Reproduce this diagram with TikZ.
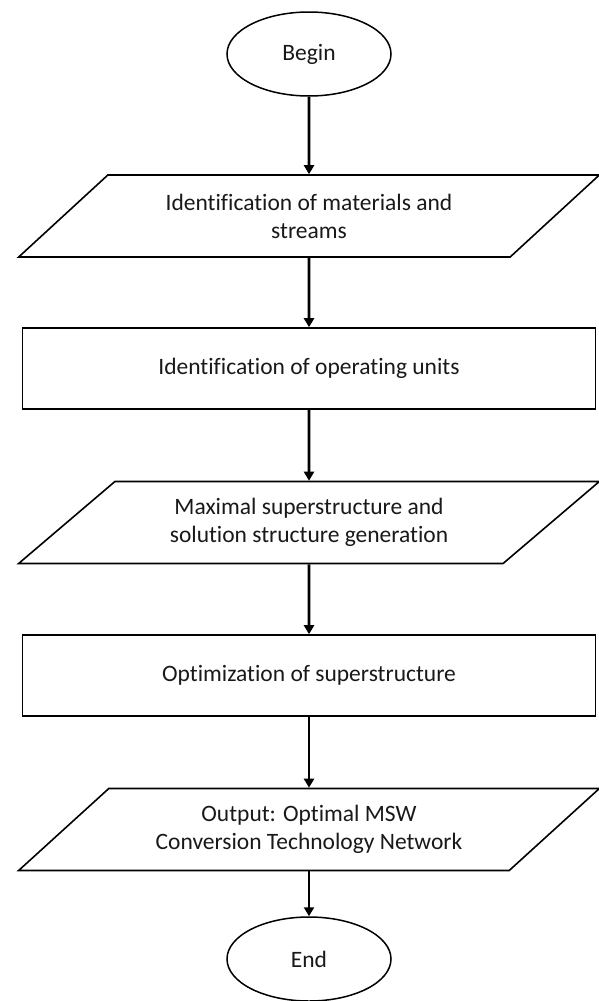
\documentclass[tikz,border=0pt]{standalone}
\usepackage{fontspec}
\setmainfont{Carlito}[Ligatures=NoCommon]
\usetikzlibrary{shapes.geometric,arrows.meta}
\begin{document}
\begin{tikzpicture}[x=1pt,y=-1pt,
  txt/.style={font=\fontsize{23.5}{28}\selectfont, text=black!90, align=center},
  box/.style={txt, draw, line width=1.6pt, rectangle, minimum width=573pt, minimum height=81pt, inner sep=0pt},
  io/.style={txt, draw, line width=1.6pt, trapezium, trapezium left angle=35, trapezium right angle=145, trapezium stretches=true, minimum width=582pt, minimum height=82pt, inner sep=0pt},
  term/.style={txt, draw, ellipse, line width=1.5pt, minimum width=164pt, minimum height=84pt, inner sep=0pt},
  flow/.style={line width=2.6pt, -{Triangle[length=9pt,width=10pt]}}]
\useasboundingbox (0,0) rectangle (598,1001);
\fill[white] (0,0) rectangle (598,1001);
\node[term] (begin) at (309,54) {Begin};
\node[io] (p1) at (309,216) {Identification of materials and\\streams};
\node[box] (r2) at (309,368.5) {Identification of operating units};
\node[io] (p3) at (309,522.5) {Maximal superstructure and\\solution structure generation};
\node[box] (r4) at (309,675.5) {Optimization of superstructure};
\node[io] (p5) at (309,829.5) {Output: Optimal MSW\\Conversion Technology Network};
\node[term] (end) at (309,959) {End};
\draw[flow] (begin.south) -- (p1.north);
\draw[flow] (p1.south) -- (r2.north);
\draw[flow] (r2.south) -- (p3.north);
\draw[flow] (p3.south) -- (r4.north);
\draw[flow] (r4.south) -- (p5.north);
\draw[flow] (p5.south) -- (end.north);
\end{tikzpicture}
\end{document}
